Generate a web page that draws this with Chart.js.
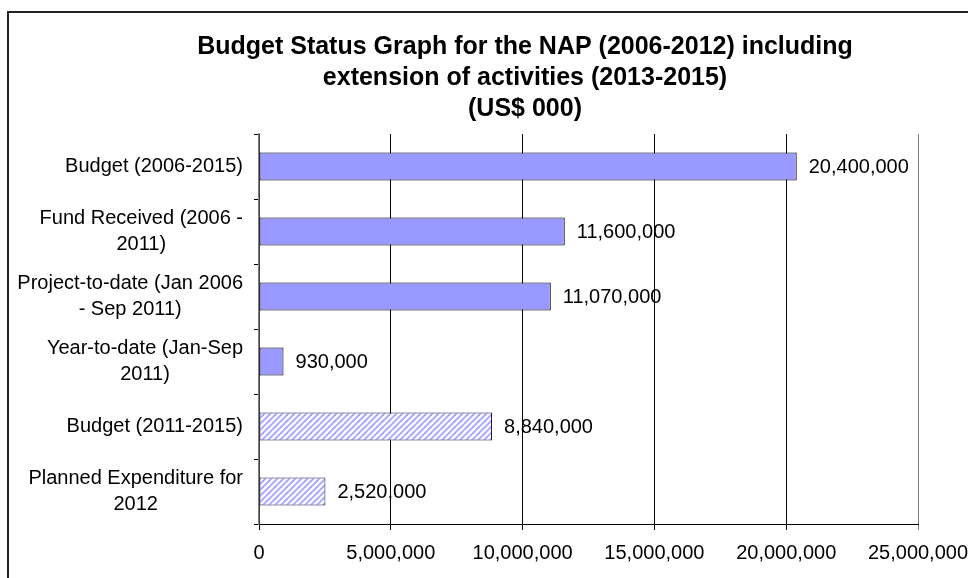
<!DOCTYPE html>
<html>
<head>
<meta charset="utf-8">
<title>Budget Status Graph</title>
<script src="https://cdn.jsdelivr.net/npm/chart.js@4.4.1/dist/chart.umd.min.js"></script>
<style>
  body { margin: 0; background: #fff; }
  canvas { display: block; }
</style>
</head>
<body>
<canvas id="grafico" width="968" height="578"></canvas>
<script>
// data
const titleLines = [
  "Budget Status Graph for the NAP (2006-2012) including",
  "extension of activities (2013-2015)",
  "(US$ 000)"
];

const categories = [
  ["Budget (2006-2015)"],
  ["Fund Received (2006 -", "2011)"],
  ["Project-to-date (Jan 2006", "- Sep 2011)"],
  ["Year-to-date (Jan-Sep", "2011)"],
  ["Budget (2011-2015)"],
  ["Planned Expenditure for", "2012"]
];

const values = [20400000, 11600000, 11070000, 930000, 8840000, 2520000];

// which bars are planned (hatched)
const planned = [false, false, false, false, true, true];

const xTicks = [0, 5000000, 10000000, 15000000, 20000000, 25000000];

const FONT = "'Liberation Sans', Arial, sans-serif";

// hatched fill
function makeHatch() {
  const c = document.createElement("canvas");
  c.width = 6;
  c.height = 6;
  const g = c.getContext("2d");
  g.fillStyle = "#ffffff";
  g.fillRect(0, 0, 6, 6);
  g.strokeStyle = "#a3a3ff";
  g.lineWidth = 1.8;
  [0, 6, 12].forEach(k => {
    g.beginPath();
    g.moveTo(-1, k + 1);
    g.lineTo(k + 1, -1);
    g.stroke();
  });
  return g.createPattern(c, "repeat");
}

const ctx = document.getElementById("grafico");
const hatch = makeHatch();

// frame + title + y labels + value labels
const extras = {
  id: "extras",
  beforeDraw(chart) {
    const g = chart.ctx;
    g.save();
    g.strokeStyle = "#222";
    g.lineWidth = 2;
    g.beginPath();
    g.moveTo(8, 590);
    g.lineTo(8, 12);
    g.lineTo(980, 12);
    g.stroke();
    g.restore();
  },
  afterDraw(chart) {
    const g = chart.ctx;
    const xs = chart.scales.x;
    const ys = chart.scales.y;
    g.save();
    g.fillStyle = "#000";

    // title
    g.font = "bold 25px " + FONT;
    g.textAlign = "center";
    g.textBaseline = "middle";
    titleLines.forEach((t, i) => {
      g.fillText(t, 525, 47 + i * 31);
    });

    // category labels, lines centred, block right aligned
    g.font = "20px " + FONT;
    const lh = 26;
    categories.forEach((lines, i) => {
      const y = ys.getPixelForValue(i);
      const w = Math.max(...lines.map(l => g.measureText(l).width));
      const cx = 243 - w / 2;
      lines.forEach((l, k) => {
        g.fillText(l, cx, y - (lines.length - 1) * lh / 2 + k * lh);
      });
    });

    // value labels
    g.textAlign = "left";
    values.forEach((v, i) => {
      const x = xs.getPixelForValue(v) + 12;
      const y = ys.getPixelForValue(i) + 1;
      g.fillText(v.toLocaleString("en-US"), x, y);
    });
    g.restore();
  }
};

new Chart(ctx, {
  type: "bar",
  data: {
    labels: categories,
    datasets: [{
      data: values,
      backgroundColor: planned.map(p => p ? hatch : "#9999ff"),
      borderColor: planned.map(p => p ? "#1a1a4d" : "#000000"),
      borderWidth: 1,
      borderSkipped: false,
      categoryPercentage: 1,
      barPercentage: 0.432
    }]
  },
  options: {
    indexAxis: "y",
    responsive: false,
    animation: false,
    devicePixelRatio: 1,
    layout: {
      padding: { top: 134, right: 50, bottom: 0, left: 0 }
    },
    plugins: {
      legend: { display: false },
      title: { display: false },
      tooltip: { enabled: false }
    },
    scales: {
      x: {
        min: 0,
        max: 25000000,
        afterBuildTicks: scale => {
          scale.ticks = xTicks.map(v => ({ value: v }));
        },
        afterFit: scale => {
          scale.height = 54;
          scale.paddingLeft = 0;
          scale.paddingRight = 0;
        },
        ticks: {
          color: "#000",
          font: { family: FONT, size: 20 },
          padding: 11,
          maxRotation: 0,
          callback: v => Number(v).toLocaleString("en-US")
        },
        grid: {
          color: c => c.index === xTicks.length - 1 ? "#808080" : "#000000",
          lineWidth: 1,
          tickLength: 6
        },
        border: { color: "#000", width: 1 }
      },
      y: {
        afterFit: scale => {
          scale.width = 259;
          scale.paddingTop = 0;
          scale.paddingBottom = 0;
        },
        ticks: { display: false },
        grid: {
          offset: true,
          drawOnChartArea: false,
          drawTicks: true,
          tickLength: 5,
          color: "#000"
        },
        border: { color: "#808080", width: 1.5 }
      }
    }
  },
  plugins: [extras]
});
</script>
</body>
</html>
